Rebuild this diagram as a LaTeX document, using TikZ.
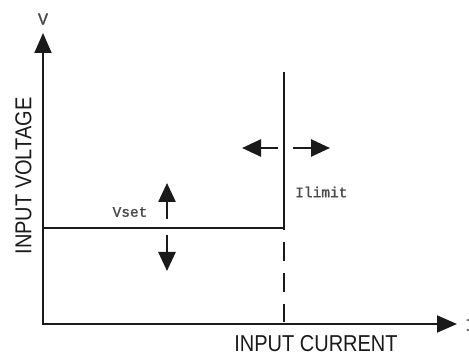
\documentclass[tikz,border=0pt]{standalone}
\usepackage{fontspec}
\usepackage{graphicx}
\setmainfont{Liberation Sans}
\newfontfamily\labfont[FakeBold=1.2]{Liberation Mono}
\usetikzlibrary{arrows.meta}
\definecolor{ink}{HTML}{1A1A1A}
\definecolor{labgray}{HTML}{4A4A4A}
\tikzset{
  axisline/.style={draw=ink, line width=2pt},
  axisarrow/.style={axisline, -{Triangle[length=20pt,width=17pt]}},
  limline/.style={draw=ink, line width=2pt},
  movearrow/.style={draw=ink, line width=2.6pt, -{Triangle[length=19pt,width=17pt]}},
  axistext/.style={font=\fontsize{20}{24}\selectfont, text=ink, inner sep=0pt},
  labtext/.style={font=\labfont\fontsize{14.5}{17}\selectfont, text=labgray, inner sep=0pt},
}
\begin{document}
\begin{tikzpicture}[x=1pt,y=-1pt]
\useasboundingbox (0,0) rectangle (469,355);
% coordinates
\coordinate (O) at (43,324);
\coordinate (Ytop) at (43,33);
\coordinate (Xend) at (457,324);
\coordinate (Vstart) at (43,228);
\coordinate (Corner) at (284,228);
\coordinate (Ltop) at (284,72);
\coordinate (Lbot) at (284,322);
\coordinate (UpA) at (167,219);
\coordinate (UpB) at (167,183);
\coordinate (DnA) at (167,235);
\coordinate (DnB) at (167,271);
\coordinate (LfA) at (278,148);
\coordinate (LfB) at (242,148);
\coordinate (RtA) at (293,148);
\coordinate (RtB) at (330,148);
% axes
\draw[axisarrow] (O) -- (Ytop);
\draw[axisarrow] ([xshift=-1pt]O) -- (Xend);
% limit lines
\draw[limline] (Vstart) -- (Corner);
\draw[limline] (Corner) -- (Ltop);
\draw[limline, dash pattern=on 19pt off 12pt, dash phase=-14pt] (Corner) -- (Lbot);
% move arrows
\draw[movearrow] (UpA) -- (UpB);
\draw[movearrow] (DnA) -- (DnB);
\draw[movearrow] (LfA) -- (LfB);
\draw[movearrow] (RtA) -- (RtB);
% labels
\node[labtext, font=\labfont\fontsize{17}{20}\selectfont] (vlab) at (43,19) {V};
\node[labtext, font=\labfont\fontsize{17}{20}\selectfont, anchor=west] (ilab) at (465,325) {I};
\node[labtext] (vset) at (130,212) {Vset};
\node[labtext, anchor=west] (ilimit) at (295,192) {Ilimit};
\node[axistext, rotate=90] (vaxis) at (23.5,176) {\scalebox{1}[1.15]{INPUT VOLTAGE}};
\node[axistext] (caxis) at (316,343.5) {\scalebox{1}[1.15]{INPUT CURRENT}};
\end{tikzpicture}
\end{document}
